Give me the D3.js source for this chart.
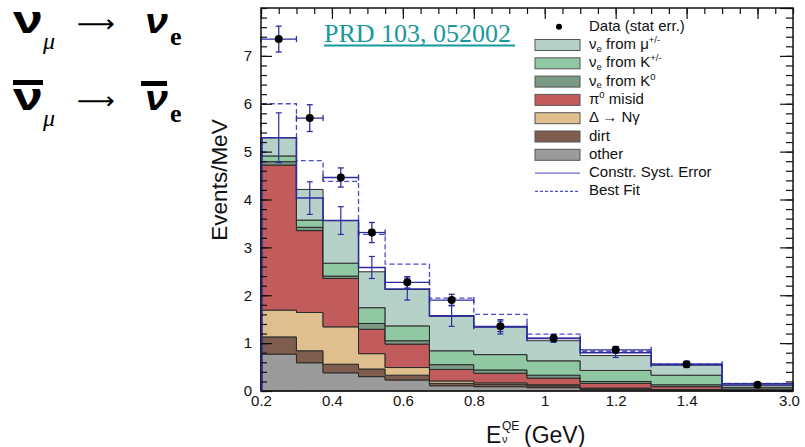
<!DOCTYPE html>
<html>
<head>
<meta charset="utf-8">
<script src="https://cdn.jsdelivr.net/npm/d3@7"></script>
<style>
  body { margin: 0; background: #fff; }
  svg { display: block; font-family: "Liberation Sans", Arial, sans-serif; }
</style>
</head>
<body>
<svg id="chart" width="805" height="447"></svg>
<script>
// === DATA (Events/MeV per bin) ===
// bin edges in GeV; the last bin (1.5 - 3.0) is drawn squeezed, like the paper does
const binEdges = [0.2, 0.3, 0.375, 0.475, 0.55, 0.675, 0.8, 0.95, 1.1, 1.3, 1.5, 3.0];

const otherBkg = [0.77, 0.59, 0.38, 0.30, 0.23, 0.11, 0.09, 0.07, 0.03, 0.01, 0.002];
const dirtBkg  = [0.36, 0.25, 0.18, 0.16, 0.10, 0.05, 0.05, 0.04, 0.02, 0.01, 0.003];
const deltaNg  = [0.56, 0.80, 0.78, 0.32, 0.16, 0.05, 0.03, 0.02, 0.01, 0.01, 0.005];
const pi0Misid = [3.03, 1.71, 1.01, 0.51, 0.49, 0.24, 0.20, 0.14, 0.10, 0.06, 0.01];
const nueK0    = [0.07, 0.07, 0.05, 0.12, 0.07, 0.10, 0.07, 0.06, 0.04, 0.04, 0.02];
const nueKpm   = [0.12, 0.15, 0.27, 0.33, 0.31, 0.29, 0.32, 0.30, 0.23, 0.20, 0.03];
const nueMu    = [0.38, 0.64, 0.89, 0.75, 0.76, 0.72, 0.58, 0.42, 0.31, 0.21, 0.04];

const dataVals = [7.35, 5.70, 4.46, 3.31, 2.27, 1.90, 1.35, 1.10, 0.86, 0.56, 0.13];
const dataErr  = [0.27, 0.28, 0.20, 0.21, 0.12, 0.12, 0.11, 0.08, 0.07, 0.06, 0.03];
const systVals = [5.29, 4.03, 3.56, 2.58, 2.13, 1.57, 1.34, 1.10, 0.80, 0.55, 0.15];
const systErr  = [0.52, 0.34, 0.29, 0.23, 0.23, 0.22, 0.15, 0.08, 0.10, 0.06, 0.02];
const bestFit  = [6.00, 4.81, 4.38, 3.27, 2.65, 1.94, 1.60, 1.19, 0.83, 0.56, 0.16];

const yTickLabels = [0, 1, 2, 3, 4, 5, 6, 7];
const xTickLabels = [0.2, 0.4, 0.6, 0.8, 1.0, 1.2, 1.4, 3.0];

// stack order, bottom to top
const layers = [
  { key: "other", vals: otherBkg, fill: "#9b9b9b" },
  { key: "dirt",  vals: dirtBkg,  fill: "#7e5c4e" },
  { key: "delta", vals: deltaNg,  fill: "#dfbf8e" },
  { key: "pi0",   vals: pi0Misid, fill: "#c25c5c" },
  { key: "k0",    vals: nueK0,    fill: "#7a9a84" },
  { key: "kpm",   vals: nueKpm,   fill: "#8fc8a3" },
  { key: "mu",    vals: nueMu,    fill: "#b6d2c8" }
];

// === SETUP ===
const svg = d3.select("#chart");
const plotL = 261, plotR = 793, plotT = 8, plotB = 391;

// display axis is linear 0.2 - 1.7, the last bin maps 1.5 - 3.0 onto 1.5 - 1.7
const xDisp = d3.scaleLinear().domain([0.2, 1.7]).range([plotL, plotR]);
const x = d3.scaleLinear().domain([0.2, 1.5, 3.0]).range([plotL, xDisp(1.5), plotR]);
const y = d3.scaleLinear().domain([0, 8]).range([plotB, plotT]);

const navy = "#2d2d9e";
const dashBlue = "#4d4dcc";

// rows for d3.stack, plus one extra row to close the last step
const rows = binEdges.map((e, i) => {
  const j = Math.min(i, binEdges.length - 2);
  const r = { edge: e };
  layers.forEach(l => r[l.key] = l.vals[j]);
  return r;
});
const stacked = d3.stack().keys(layers.map(l => l.key))(rows);

// === STACKED HISTOGRAM ===
const area = d3.area()
  .curve(d3.curveStepAfter)
  .x(d => x(d.data.edge))
  .y0(d => y(d[0]))
  .y1(d => y(d[1]));

svg.append("g").selectAll("path")
  .data(stacked)
  .join("path")
  .attr("d", area)
  .attr("fill", (d, i) => layers[i].fill)
  .attr("stroke", "#2b2b2b")
  .attr("stroke-width", 1);

// === STEP LINES (constrained prediction & best fit) ===
function stepPoints(vals) {
  const pts = [[binEdges[0], 0]];
  binEdges.forEach((e, i) => {
    const j = Math.min(i, vals.length - 1);
    pts.push([e, vals[j]]);
  });
  return pts;
}
const stepLine = d3.line().curve(d3.curveStepAfter).x(d => x(d[0])).y(d => y(d[1]));

svg.append("path")
  .attr("d", stepLine(stepPoints(bestFit)))
  .attr("fill", "none")
  .attr("stroke", dashBlue)
  .attr("stroke-width", 1.3)
  .attr("stroke-dasharray", "5,3");

svg.append("path")
  .attr("d", stepLine(stepPoints(systVals)))
  .attr("fill", "none")
  .attr("stroke", navy)
  .attr("stroke-width", 1.6);

const centers = binEdges.slice(0, -1).map((e, i) => (e + binEdges[i + 1]) / 2);

// syst error bars
const sysG = svg.append("g").attr("stroke", navy).attr("stroke-width", 1.2);
centers.forEach((c, i) => {
  const cx = x(c), y1 = y(systVals[i] + systErr[i]), y2 = y(systVals[i] - systErr[i]);
  sysG.append("line").attr("x1", cx).attr("x2", cx).attr("y1", y1).attr("y2", y2);
  sysG.append("line").attr("x1", cx - 3).attr("x2", cx + 3).attr("y1", y1).attr("y2", y1);
  sysG.append("line").attr("x1", cx - 3).attr("x2", cx + 3).attr("y1", y2).attr("y2", y2);
});

// data points with stat errors and bin-width bars
const dataG = svg.append("g").attr("stroke", navy).attr("stroke-width", 1.3);
centers.forEach((c, i) => {
  const cx = x(c), cy = y(dataVals[i]);
  const xl = x(binEdges[i]), xr = x(binEdges[i + 1]);
  const y1 = y(dataVals[i] + dataErr[i]), y2 = y(dataVals[i] - dataErr[i]);
  dataG.append("line").attr("x1", xl).attr("x2", xr).attr("y1", cy).attr("y2", cy);
  dataG.append("line").attr("x1", xl).attr("x2", xl).attr("y1", cy - 3).attr("y2", cy + 3);
  dataG.append("line").attr("x1", xr).attr("x2", xr).attr("y1", cy - 3).attr("y2", cy + 3);
  dataG.append("line").attr("x1", cx).attr("x2", cx).attr("y1", y1).attr("y2", y2);
  dataG.append("line").attr("x1", cx - 3).attr("x2", cx + 3).attr("y1", y1).attr("y2", y1);
  dataG.append("line").attr("x1", cx - 3).attr("x2", cx + 3).attr("y1", y2).attr("y2", y2);
});
svg.append("g").selectAll("circle")
  .data(centers)
  .join("circle")
  .attr("cx", d => x(d))
  .attr("cy", (d, i) => y(dataVals[i]))
  .attr("r", 4)
  .attr("fill", "#000");

// === AXES & FRAME ===
svg.append("rect")
  .attr("x", plotL).attr("y", plotT)
  .attr("width", plotR - plotL).attr("height", plotB - plotT)
  .attr("fill", "none").attr("stroke", "#111").attr("stroke-width", 1.5);
// left edge of the constrained histogram sits over the frame
svg.append("line")
  .attr("x1", plotL + 1).attr("x2", plotL + 1)
  .attr("y1", y(0)).attr("y2", y(systVals[0]))
  .attr("stroke", navy).attr("stroke-width", 1.6);

const minorY = d3.range(0, 8.001, 0.2);
const minorX = d3.range(0.2, 1.7001, 0.05);
const majorXDisp = d3.range(0.2, 1.6001, 0.2);

function tickAxis(axis, tx, ty) {
  const g = svg.append("g").attr("transform", `translate(${tx},${ty})`).call(axis);
  g.select(".domain").remove();
  g.selectAll("line").attr("stroke", "#111").attr("stroke-width", 1.2);
  return g;
}

// left
tickAxis(d3.axisLeft(y).tickValues(minorY).tickSizeInner(-6).tickFormat(""), plotL, 0);
const yAx = tickAxis(d3.axisLeft(y).tickValues(yTickLabels).tickSizeInner(-11).tickPadding(9).tickFormat(d3.format("d")), plotL, 0);
yAx.selectAll("text").attr("font-size", 15).attr("fill", "#111")
  .attr("font-family", "Liberation Sans, Arial, sans-serif");
// right
tickAxis(d3.axisRight(y).tickValues(minorY).tickSizeInner(-7).tickFormat(""), plotR, 0);
tickAxis(d3.axisRight(y).tickValues(yTickLabels.concat([8])).tickSizeInner(-13).tickFormat(""), plotR, 0);
// top
tickAxis(d3.axisTop(xDisp).tickValues(minorX).tickSizeInner(-6).tickFormat(""), 0, plotT);
tickAxis(d3.axisTop(xDisp).tickValues(majorXDisp).tickSizeInner(-11).tickFormat(""), 0, plotT);
// bottom labels
const xAx = svg.append("g").attr("transform", `translate(0,${plotB})`)
  .call(d3.axisBottom(x).tickValues(xTickLabels).tickSize(0).tickPadding(4)
    .tickFormat(d => d === 1 ? "1" : d3.format(".1f")(d)));
xAx.select(".domain").remove();
xAx.selectAll("text").attr("font-size", 15).attr("fill", "#111")
  .attr("font-family", "Liberation Sans, Arial, sans-serif");
xAx.selectAll("text").filter(d => d === 3.0).attr("dx", -4);

// axis titles
svg.append("text")
  .attr("transform", "translate(227,180) rotate(-90)")
  .attr("text-anchor", "middle")
  .attr("font-size", 22.5)
  .attr("fill", "#111")
  .text("Events/MeV");

const xt = svg.append("g").attr("fill", "#111");
xt.append("text").attr("x", 486).attr("y", 443).attr("font-size", 23).text("E");
xt.append("text").attr("x", 502).attr("y", 430).attr("font-size", 12).text("QE");
xt.append("text").attr("x", 502).attr("y", 443).attr("font-size", 11).text("ν");
xt.append("text").attr("x", 524).attr("y", 443).attr("font-size", 23).text("(GeV)");

// === LEGEND ===
const lg = svg.append("g").attr("font-size", 15).attr("fill", "#111");
const lgX = 535, lgTextX = 589, rowH = 18.3, row0 = 30.7;
const legendRows = [
  { type: "dot", parts: [["Data (stat err.)"]] },
  { type: "box", fill: layers[6].fill, parts: [["ν"], ["e", "sub"], [" from μ"], ["+/-", "sup"]] },
  { type: "box", fill: layers[5].fill, parts: [["ν"], ["e", "sub"], [" from K"], ["+/-", "sup"]] },
  { type: "box", fill: layers[4].fill, parts: [["ν"], ["e", "sub"], [" from K"], ["0", "sup"]] },
  { type: "box", fill: layers[3].fill, parts: [["π"], ["0", "sup"], [" misid"]] },
  { type: "box", fill: layers[2].fill, parts: [["Δ → Nγ"]] },
  { type: "box", fill: layers[1].fill, parts: [["dirt"]] },
  { type: "box", fill: layers[0].fill, parts: [["other"]] },
  { type: "line", parts: [["Constr. Syst. Error"]] },
  { type: "dash", parts: [["Best Fit"]] }
];
legendRows.forEach((r, i) => {
  const base = row0 + i * rowH;
  const mid = base - 4;
  if (r.type === "dot") {
    lg.append("circle").attr("cx", lgX + 24).attr("cy", mid).attr("r", 3).attr("fill", "#000");
  } else if (r.type === "box") {
    lg.append("rect").attr("x", lgX).attr("y", mid - 5.5).attr("width", 45).attr("height", 11)
      .attr("fill", r.fill).attr("stroke", "#555").attr("stroke-width", 1);
  } else {
    lg.append("line").attr("x1", lgX).attr("x2", lgX + 45).attr("y1", mid).attr("y2", mid)
      .attr("stroke", r.type === "line" ? "#6b6bd6" : dashBlue).attr("stroke-width", 1.2)
      .attr("stroke-dasharray", r.type === "dash" ? "3,2" : null);
  }
  const t = lg.append("text").attr("x", lgTextX).attr("y", base);
  let shift = 0;
  r.parts.forEach(p => {
    const want = p[1] === "sub" ? 2.5 : p[1] === "sup" ? -6 : 0;
    const ts = t.append("tspan").text(p[0]).attr("dy", want - shift);
    if (p[1]) ts.attr("font-size", 9.5);
    shift = want;
  });
});

// === REFERENCE LINK ===
svg.append("text")
  .attr("x", 324).attr("y", 42)
  .attr("font-family", "Liberation Serif, Times New Roman, serif")
  .attr("font-size", 26)
  .attr("fill", "#17999e")
  .text("PRD 103, 052002");
svg.append("line")
  .attr("x1", 324).attr("x2", 515).attr("y1", 45.5).attr("y2", 45.5)
  .attr("stroke", "#17999e").attr("stroke-width", 2);

// === OSCILLATION CHANNELS (left) ===
const osc = svg.append("g").attr("fill", "#000");
[0, 77].forEach((dy, k) => {
  osc.append("text").attr("x", 13).attr("y", 33 + dy)
    .attr("font-size", 38).attr("font-weight", "bold")
    .attr("textLength", 30).attr("lengthAdjust", "spacingAndGlyphs")
    .text("ν");
  osc.append("text").attr("x", 43).attr("y", 49 + dy)
    .attr("font-family", "Liberation Serif, serif").attr("font-style", "italic")
    .attr("font-size", 24).text("μ");
  osc.append("text").attr("x", 77).attr("y", 32 + dy)
    .attr("font-family", "DejaVu Sans, sans-serif")
    .attr("font-size", 24)
    .attr("textLength", 38).attr("lengthAdjust", "spacingAndGlyphs")
    .text("⟶");
  osc.append("text").attr("x", 145).attr("y", 33 + dy)
    .attr("font-size", 35).attr("font-weight", "bold").attr("font-style", "italic")
    .attr("textLength", 23).attr("lengthAdjust", "spacingAndGlyphs")
    .text("ν");
  osc.append("text").attr("x", 170).attr("y", 45 + dy)
    .attr("font-family", "Liberation Serif, serif").attr("font-weight", "bold")
    .attr("font-size", 26).text("e");
  if (k === 1) {
    osc.append("rect").attr("x", 13).attr("y", 80).attr("width", 30).attr("height", 5);
    osc.append("rect").attr("x", 141).attr("y", 81).attr("width", 26).attr("height", 5);
  }
});
</script>
</body>
</html>
